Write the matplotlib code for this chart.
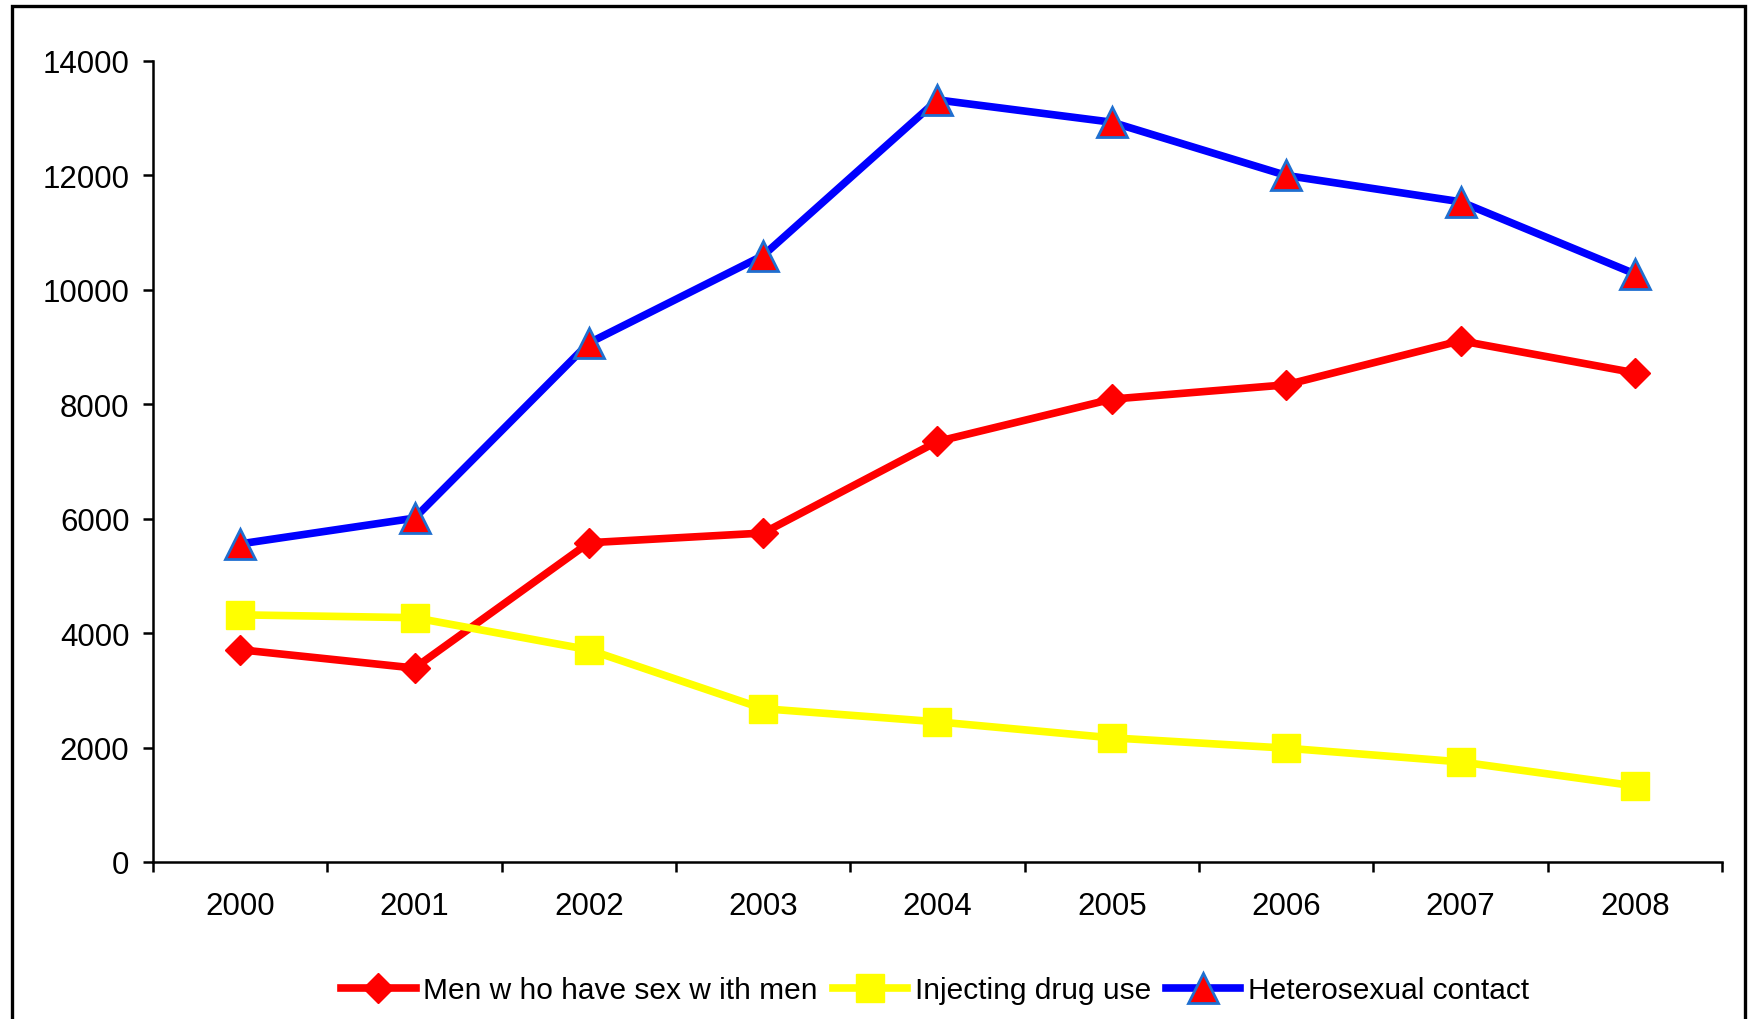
import matplotlib.pyplot as plt
import numpy as np
from matplotlib.patches import Rectangle

plt.rcParams['font.family'] = ['Liberation Sans', 'DejaVu Sans']

years = ['2000', '2001', '2002', '2003', '2004', '2005', '2006', '2007', '2008']
msm = [3710, 3390, 5580, 5750, 7350, 8090, 8340, 9110, 8550]
idu = [4320, 4270, 3710, 2680, 2450, 2170, 1990, 1750, 1330]
hetero = [5560, 6010, 9070, 10600, 13320, 12930, 12000, 11540, 10280]

fig = plt.figure(figsize=(17.48, 10.2), dpi=100)
ax = fig.add_axes([153 / 1748, 1 - 863 / 1020, (1722 - 153) / 1748, (863 - 62) / 1020])

x = np.arange(len(years))
ax.plot(x, msm, color='#FF0000', lw=5.5, marker='D', ms=15.5, mfc='#FF0000', mec='#FF0000',
        label='Men w ho have sex w ith men', zorder=3)
ax.plot(x, idu, color='#FFFF00', lw=5.5, marker='s', ms=20, mfc='#FFFF00', mec='#FFFF00',
        label='Injecting drug use', zorder=3)
ax.plot(x, hetero, color='#0000FF', lw=5.5, marker='^', ms=21, mfc='#FF0000', mec='#1F6FD0',
        mew=2, label='Heterosexual contact', zorder=4)

ax.set_xlim(-0.5, len(years) - 0.5)
ax.set_ylim(0, 14000)
ax.set_yticks(np.arange(0, 14001, 2000))

# category ticks sit between the years, labels sit on the years
ax.set_xticks(np.arange(-0.5, len(years), 1))
ax.set_xticklabels([])
ax.set_xticks(x, minor=True)
ax.set_xticklabels(years, minor=True)
ax.tick_params(axis='x', which='minor', length=0, pad=21, labelsize=22.5)
ax.tick_params(axis='x', which='major', length=7, width=1.8, direction='out')
ax.tick_params(axis='y', length=7, width=1.8, direction='out', pad=10, labelsize=22.5)

for side in ['top', 'right']:
    ax.spines[side].set_visible(False)
for side in ['left', 'bottom']:
    ax.spines[side].set_linewidth(1.8)

ax.legend(loc='center', bbox_to_anchor=(935 / 1748, 1 - 991 / 1020), bbox_transform=fig.transFigure,
          ncol=3, frameon=False, fontsize=21.5, handlelength=2.5, handletextpad=0.25,
          columnspacing=0.5)

# outer chart border
fig.add_artist(Rectangle((12 / 1748, -0.05), (1745 - 12) / 1748, 1.05 - 7 / 1020,
                         transform=fig.transFigure, fill=False, lw=2.4, ec='black',
                         clip_on=False))

fig.savefig('out.png', dpi=100)
